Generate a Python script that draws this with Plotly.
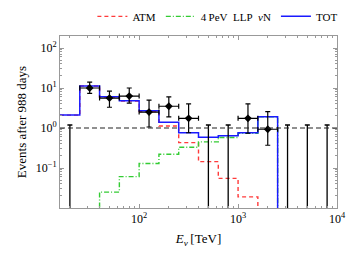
import numpy as np
import plotly.graph_objects as go

# ---- data ----
bin_edges_log = [1.2, 1.4, 1.6, 1.8, 2.0, 2.2, 2.4, 2.6, 2.8, 3.0, 3.2, 3.4, 3.6, 3.8, 4.0]
atm = [2.1, 11.2, 5.97, 4.74, 2.57, 1.12, 0.43, 0.144, 0.055, 0.019, 0, 0, 0, 0]
llp = [0, 0, 0.025, 0.061, 0.13, 0.22, 0.33, 0.45, 0.58, 0.74, 1.9, 0, 0, 0]
tot = [2.1, 11.2, 6.0, 4.8, 2.7, 1.39, 0.76, 0.59, 0.64, 0.76, 1.9, 0, 0, 0]

data_center_log = [1.5, 1.7, 1.9, 2.1, 2.3, 2.5, 3.1, 3.3]
data_val = [10, 5.6, 6.3, 2.5, 3.5, 1.75, 1.75, 0.93]
data_hi = [14, 8.4, 10, 5.0, 6.0, 4.0, 4.0, 2.56]
data_lo = [7.3, 3.3, 4.2, 1.06, 1.9, 0.76, 0.74, 0.37]

zero_center_log = [1.3, 2.7, 2.9, 3.5, 3.7, 3.9]
zero_upper = [1.19, 1.19, 1.19, 1.19, 1.19, 1.19]

half_bin = 0.1
x_tick_vals = [100, 1000, 10000]
x_tick_text = ["10<sup>2</sup>", "10<sup>3</sup>", "10<sup>4</sup>"]
y_tick_vals = [0.1, 1, 10, 100]
y_tick_text = ["10<sup>\u22121</sup>", "10<sup>0</sup>", "10<sup>1</sup>", "10<sup>2</sup>"]

FLOOR = 1e-5
edges = 10 ** np.array(bin_edges_log)


def step_y(vals):
    v = [x if x > 0 else FLOOR for x in vals]
    return v + [v[-1]]


font = "Liberation Serif"
fig = go.Figure()

fig.add_trace(go.Scatter(x=edges, y=step_y(atm), mode="lines", line_shape="hv",
                         line=dict(color="#ff3b3b", width=1.4, dash="4px,3px"), name="ATM"))
fig.add_trace(go.Scatter(x=edges, y=step_y(llp), mode="lines", line_shape="hv",
                         line=dict(color="#33cc33", width=1.4, dash="5px,2px,1px,2px"),
                         name="4\u2009PeV\u00a0\u00a0LLP\u00a0\u00a0<i>\u03bd</i>N"))
fig.add_trace(go.Scatter(x=edges, y=step_y(tot), mode="lines", line_shape="hv",
                         line=dict(color="#1a1aff", width=1.5), name="TOT"))

# horizontal dashed line at 1
fig.add_hline(y=1, line=dict(color="#222222", width=1.2, dash="5px,3px"))

# zero-event upper limits
zc = 10 ** np.array(zero_center_log)
zbase = [1e-4] * len(zc)
fig.add_trace(go.Scatter(x=zc, y=zbase, mode="markers", marker=dict(size=1, color="black"),
                         error_y=dict(type="data", symmetric=False,
                                      array=[u - b for u, b in zip(zero_upper, zbase)],
                                      arrayminus=[0] * len(zc), color="black",
                                      thickness=1.3, width=2.5),
                         showlegend=False))

# data points
dc = 10 ** np.array(data_center_log)
fig.add_trace(go.Scatter(
    x=dc, y=data_val, mode="markers",
    marker=dict(symbol="diamond", size=6, color="black"),
    error_y=dict(type="data", symmetric=False,
                 array=[h - v for h, v in zip(data_hi, data_val)],
                 arrayminus=[v - l for v, l in zip(data_val, data_lo)],
                 color="black", thickness=1.2, width=2.5),
    error_x=dict(type="data", symmetric=False,
                 array=10 ** (np.array(data_center_log) + half_bin) - dc,
                 arrayminus=dc - 10 ** (np.array(data_center_log) - half_bin),
                 color="black", thickness=1.2, width=2.5),
    showlegend=False))

axis_common = dict(showline=True, linecolor="#999999", linewidth=1, mirror="allticks",
                   ticks="inside", ticklen=4, tickcolor="#999999", showgrid=False,
                   zeroline=False, automargin=False,
                   tickfont=dict(family=font, size=12, color="black"))

fig.update_xaxes(type="log", range=[1.2, 4.0], tickvals=x_tick_vals, ticktext=x_tick_text,
                 minor=dict(ticks="inside", ticklen=2, tickcolor="#999999", dtick="D1", showgrid=False),
                 title=dict(text="<i>E</i><sub><i>\u03bd</i></sub>\u2009[TeV]",
                            font=dict(family=font, size=13, color="black"), standoff=8),
                 **axis_common)
fig.update_yaxes(type="log", range=[-2, 2.3], tickvals=y_tick_vals, ticktext=y_tick_text,
                 minor=dict(ticks="inside", ticklen=2, tickcolor="#999999", dtick="D1", showgrid=False),
                 title=dict(text="Events after 988 days",
                            font=dict(family=font, size=13, color="black"), standoff=6),
                 **axis_common)

fig.update_layout(
    width=350, height=258,
    margin=dict(l=60, r=13, t=36, b=50, autoexpand=False),
    paper_bgcolor="white", plot_bgcolor="white",
    font=dict(family=font, size=11, color="black"),
    legend=dict(orientation="h", x=0.57, xanchor="center", y=1.03, yanchor="bottom",
                font=dict(family=font, size=11), itemwidth=30, tracegroupgap=0,
                bgcolor="rgba(0,0,0,0)"),
)

# remove the browser's default body margin so the figure fills the window exactly
fig.write_html("out.html", config={"displayModeBar": False},
               post_script="document.body.style.margin='0';document.body.style.overflow='hidden';")
